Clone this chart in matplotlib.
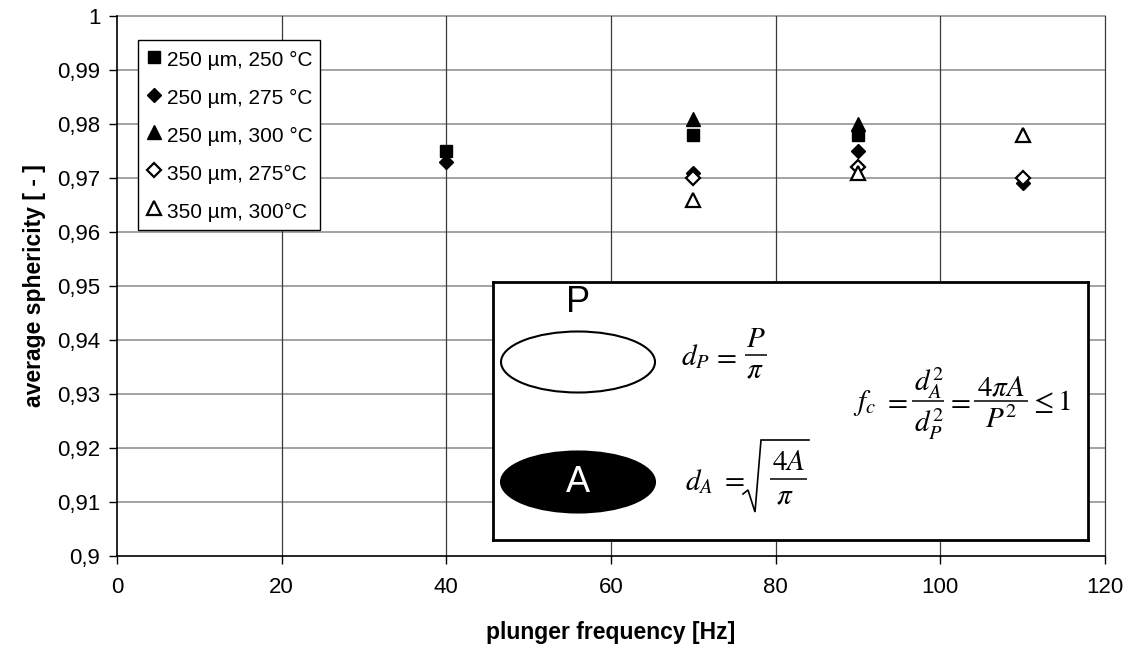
import matplotlib
matplotlib.use("Agg")
import matplotlib.pyplot as plt
from matplotlib.patches import Ellipse

plt.rcParams["font.family"] = ["Liberation Sans", "DejaVu Sans"]
plt.rcParams["mathtext.fontset"] = "stix"

# ── Data ──────────────────────────────────────────────────────────────────────
freq_sq    = [40, 70, 90]
sph_sq     = [0.975, 0.978, 0.978]          # 250 µm, 250 °C
freq_dia   = [40, 70, 90, 110]
sph_dia    = [0.973, 0.971, 0.975, 0.969]   # 250 µm, 275 °C
freq_tri   = [70, 90]
sph_tri    = [0.981, 0.980]                 # 250 µm, 300 °C
freq_odia  = [70, 90, 110]
sph_odia   = [0.970, 0.972, 0.970]          # 350 µm, 275°C
freq_otri  = [70, 90, 110]
sph_otri   = [0.966, 0.971, 0.978]          # 350 µm, 300°C

x_ticks = list(range(0, 121, 20))
y_ticks = [0.90, 0.91, 0.92, 0.93, 0.94, 0.95, 0.96, 0.97, 0.98, 0.99, 1.00]
y_tick_labels = ["0,9", "0,91", "0,92", "0,93", "0,94", "0,95",
                 "0,96", "0,97", "0,98", "0,99", "1"]

TEXT = "black"
HGRID = "#8a8a8a"
VGRID = "#3a3a3a"
FS_EQ = 21

fig = plt.figure(figsize=(11.28, 6.48), dpi=100, facecolor="white")
ax = fig.add_axes([117/1128, 1 - 556/648, (1105 - 117)/1128, (556 - 16)/648])

ax.plot(freq_sq, sph_sq, ls="none", marker="s", ms=8.5, mfc="black", mec="black",
        label="250 µm, 250 °C", zorder=5)
ax.plot(freq_dia, sph_dia, ls="none", marker="D", ms=6.8, mfc="black", mec="black",
        label="250 µm, 275 °C", zorder=5)
ax.plot(freq_tri, sph_tri, ls="none", marker="^", ms=10, mfc="black", mec="black",
        label="250 µm, 300 °C", zorder=5)
ax.plot(freq_odia, sph_odia, ls="none", marker="D", ms=6.8, mfc="white", mec="black",
        mew=1.6, label="350 µm, 275°C", zorder=5)
ax.plot(freq_otri, sph_otri, ls="none", marker="^", ms=10, mfc="white", mec="black",
        mew=1.6, label="350 µm, 300°C", zorder=5)

ax.set_xlim(0, 120)
ax.set_ylim(0.9, 1.0)
ax.set_xticks(x_ticks)
ax.set_yticks(y_ticks)
ax.set_yticklabels(y_tick_labels)

for yv in y_ticks[1:]:
    ax.axhline(yv, color=HGRID, lw=1.1, zorder=1, clip_on=False)
for xv in x_ticks[1:]:
    ax.axvline(xv, color=VGRID, lw=0.9, zorder=1, clip_on=False)

ax.spines[["top", "right"]].set_visible(False)
ax.spines[["left", "bottom"]].set_color("black")
ax.spines[["left", "bottom"]].set_linewidth(1.2)
ax.tick_params(direction="out", length=6, width=1, colors=TEXT, labelsize=16, pad=6)
ax.tick_params(axis="x", pad=9)

ax.set_xlabel("plunger frequency [Hz]", fontsize=16.5, fontweight="bold", va="center")
ax.set_ylabel("average sphericity [ - ]", fontsize=16.5, fontweight="bold", va="center")
ax.xaxis.set_label_coords(0.5, (556 - 632) / 540)
ax.yaxis.set_label_coords((35 - 117) / 988, 0.5)

leg = ax.legend(loc="upper left", bbox_to_anchor=(138/1128, 1 - 40/648),
                bbox_transform=fig.transFigure, borderaxespad=0, fontsize=15,
                frameon=True, fancybox=False, framealpha=1, edgecolor="black",
                handlelength=0.8, handleheight=1.4, handletextpad=0.25,
                labelspacing=0.66, borderpad=0.35, numpoints=1)
leg.get_frame().set_linewidth(1.0)
leg.set_zorder(10)

# ── Inset with shape-factor definitions ──────────────────────────────────────
BOX_L, BOX_R, BOX_T, BOX_B = 493, 1088, 282, 540   # pixel frame of the inset
inset = fig.add_axes([BOX_L/1128, 1 - BOX_B/648, (BOX_R - BOX_L)/1128, (BOX_B - BOX_T)/648])
inset.set_xlim(BOX_L, BOX_R)
inset.set_ylim(BOX_B, BOX_T)      # pixel-like coordinates inside the box
inset.set_xticks([])
inset.set_yticks([])
for sp in inset.spines.values():
    sp.set_linewidth(2)
    sp.set_color("black")
inset.set_facecolor("white")


def eq(x, y, s, ha="center", va="baseline", fs=FS_EQ):
    inset.text(x, y, s, fontsize=fs, ha=ha, va=va)


def bar(x0, x1, y):
    inset.plot([x0, x1], [y, y], color="black", lw=1.1, solid_capstyle="butt")


inset.add_patch(Ellipse((578, 362), 154, 61, facecolor="white", edgecolor="black", lw=1.5))
inset.add_patch(Ellipse((578, 482), 154, 61, facecolor="black", edgecolor="black", lw=1.5))
inset.text(578, 303, "P", fontsize=26, ha="center", va="center")
inset.text(578, 482, "A", fontsize=26, ha="center", va="center", color="white")

# d_P = P / pi
eq(681, 365, r"$d_{P}$", ha="left")
eq(724, 356, r"$=$", va="center")
bar(745, 767, 355)
eq(756, 347, r"$P$")
eq(755, 377, r"$\pi$")

# d_A = sqrt(4A / pi)
eq(685, 490, r"$d_{A}$", ha="left")
eq(732, 479, r"$=$", va="center")
inset.plot([743, 748, 755, 761, 809], [494, 490, 512, 440, 440],
           color="black", lw=1.2, solid_joinstyle="miter")
bar(770, 807, 479)
eq(788, 470, r"$4A$")
eq(785, 503, r"$\pi$")

# f_c = d_A^2 / d_P^2 = 4 pi A / P^2 <= 1
eq(853, 410, r"$f_{c}$", ha="left")
eq(895, 401, r"$=$", va="center")
bar(912, 944, 401)
eq(929, 391, r"$d_{A}^{2}$")
eq(929, 432, r"$d_{P}^{2}$")
eq(958, 401, r"$=$", va="center")
bar(974, 1028, 401)
eq(1001, 395, r"$4\pi A$")
eq(1001, 428, r"$P^{2}$")
eq(1029, 410, r"$\leq 1$", ha="left")

fig.savefig("out.png", dpi=100, facecolor="white")
